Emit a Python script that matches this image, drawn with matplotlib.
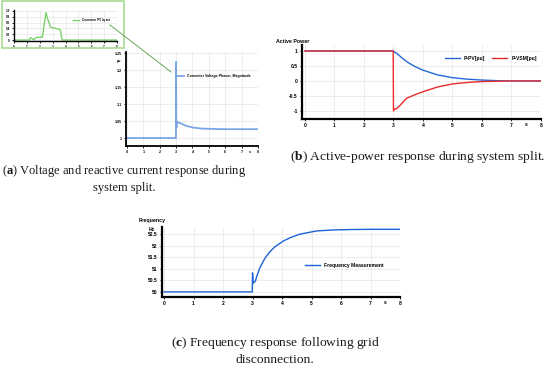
import matplotlib
matplotlib.use('Agg')
import matplotlib.pyplot as plt
from matplotlib.patches import Rectangle
from matplotlib.lines import Line2D

plt.rcParams['font.family'] = ['Liberation Sans', 'DejaVu Sans']
plt.rcParams['mathtext.fontset'] = 'custom'
plt.rcParams['mathtext.rm'] = 'Liberation Serif'
plt.rcParams['mathtext.bf'] = 'Liberation Serif:bold'

# (a) converter voltage magnitude [pu]
volt_t = [0, 2.99, 3.0, 3.01, 3.02, 3.04, 3.06, 3.3, 3.6, 4.0, 4.5, 5.0, 6.0, 8.0]
volt_v = [1.0, 1.0, 1.224, 1.05, 1.03, 1.049, 1.047, 1.043, 1.036, 1.031, 1.028, 1.027, 1.026, 1.026]
volt_ticks = [1.0, 1.05, 1.1, 1.15, 1.2, 1.25]
volt_labels = ['1', '1.05', '1.1', '1.15', '1.2', '1.25']

# (a) inset: reactive current
iq_t = [0, 1.15, 1.29, 1.45, 1.55, 1.7, 1.86, 2.2, 2.48, 2.6, 2.84, 3.2, 3.57, 3.62, 3.74, 8.0]
iq_v = [0, 0, 0.08, 0.03, 0.02, 0.08, 0.1, 0.1, 0.94, 0.75, 0.44, 0.4, 0.36, 0.3, 0.0, 0.0]
iq_ticks = [0, 0.2, 0.4, 0.6, 0.8, 1.0]

# (b) active power [pu]
ppv_t = [0, 2.99, 3.0, 3.05, 3.1, 3.3, 3.5, 3.75, 4.0, 4.5, 5.0, 5.5, 6.0, 6.5, 7.0, 8.0]
ppv_v = [1, 1, 1, 0.95, 0.93, 0.76, 0.61, 0.47, 0.36, 0.2, 0.11, 0.06, 0.03, 0.01, 0, 0]
pvsm_t = [0, 2.99, 3.0, 3.02, 3.1, 3.2, 3.44, 3.75, 4.0, 4.5, 5.0, 5.5, 6.0, 6.5, 7.0, 8.0]
pvsm_v = [1, 1, -1, -0.94, -0.93, -0.84, -0.58, -0.45, -0.36, -0.2, -0.1, -0.05, -0.02, -0.01, 0, 0]
p_ticks = [-1, -0.5, 0, 0.5, 1]

# (c) frequency [Hz]
freq_t = [0, 2.99, 3.0, 3.02, 3.05, 3.1, 3.14, 3.25, 3.42, 3.6, 3.76, 4.05, 4.3, 4.6, 5.17, 5.7, 6.3, 7.0, 8.0]
freq_v = [50, 50, 50.82, 50.38, 50.4, 50.48, 50.66, 51.05, 51.45, 51.75, 51.95, 52.2, 52.35, 52.49,
          52.63, 52.67, 52.69, 52.7, 52.7]
f_ticks = [50, 50.5, 51, 51.5, 52, 52.5]

x_ticks = [0, 1, 2, 3, 4, 5, 6, 7, 8]

W, H = 550, 373
fig = plt.figure(figsize=(W / 100, H / 100), dpi=100)


def box(left, top, right, bottom):
    return [left / W, 1 - bottom / H, (right - left) / W, (bottom - top) / H]


def style(ax, fs, lw=1.6):
    for s in ['top', 'right']:
        ax.spines[s].set_visible(False)
    for s in ['left', 'bottom']:
        ax.spines[s].set_linewidth(lw)
    ax.grid(True, color='#e6e6e6', linewidth=0.5)
    ax.set_axisbelow(True)
    ax.tick_params(labelsize=fs, length=1.5, width=0.6, pad=1.5)
    for lab in ax.get_xticklabels() + ax.get_yticklabels():
        lab.set_fontweight('bold')
    ax.set_xticks(x_ticks)
    ax.set_xticklabels([str(x) for x in x_ticks], fontsize=fs, fontweight='bold')


# ---- (a) main
ax_a = fig.add_axes(box(126, 52, 258, 146))
ax_a.plot(volt_t, volt_v, color='#7aa6e6', linewidth=1.3, label='Converter Voltage Phasor, Magnitude')
ax_a.set_xlim(-0.06, 8)
ax_a.set_ylim(0.9765, 1.253)
style(ax_a, 2.6, lw=1.3)
ax_a.set_yticks(volt_ticks)
ax_a.set_yticklabels(volt_labels, fontsize=2.6, fontweight='bold')
ax_a.text(7.5, -0.045, 's', transform=ax_a.get_xaxis_transform(), fontsize=2.6, fontweight='bold',
          ha='center', va='top')
ax_a.text(-0.04, 0.9, 'pu', transform=ax_a.transAxes, fontsize=2.6, fontweight='bold', ha='right', va='center')
ax_a.legend(loc='center', bbox_to_anchor=(0.667, 0.745), frameon=False, fontsize=2.6,
            handlelength=2, prop={'size': 2.6, 'weight': 'bold'})

# ---- (a) inset
ax_i = fig.add_axes(box(14, 10, 117, 41))
ax_i.plot(iq_t, iq_v, color='#7cd26a', linewidth=1.0, label='Converter PV Iq act')
ax_i.set_xlim(0, 8)
ax_i.set_ylim(-0.033, 1.03)
style(ax_i, 2.2, lw=1.0)
ax_i.set_yticks(iq_ticks)
ax_i.set_yticklabels([str(v) for v in iq_ticks], fontsize=2.2, fontweight='bold')
ax_i.legend(loc='center', bbox_to_anchor=(0.75, 0.68), frameon=False,
            handlelength=2, prop={'size': 2.2, 'weight': 'bold'})
fig.patches.append(Rectangle((2 / W, 1 - 48 / H), 122 / W, 47 / H, transform=fig.transFigure,
                             fill=False, edgecolor='#a9db92', linewidth=1.2))
fig.lines.append(Line2D([110 / W, 171 / W], [1 - 25 / H, 1 - 72 / H], transform=fig.transFigure,
                        color='#6aa85a', linewidth=0.7))

# ---- (b)
ax_b = fig.add_axes(box(302, 45, 541, 119))
ax_b.plot(ppv_t, ppv_v, color='#2468d8', linewidth=1.0, label='P-PV[pu]')
ax_b.plot(pvsm_t, pvsm_v, color='#ec2a2a', linewidth=1.0, label='P-VSM[pu]')
ax_b.set_xlim(-0.1, 8)
ax_b.set_ylim(-1.27, 1.2)
style(ax_b, 3.6)
ax_b.set_yticks(p_ticks)
ax_b.set_yticklabels(['-1', '-0.5', '0', '0.5', '1'], fontsize=3.6, fontweight='bold')
ax_b.text(7.5, -0.045, 's', transform=ax_b.get_xaxis_transform(), fontsize=3.6, fontweight='bold',
          ha='center', va='top')
ax_b.text(-0.11, 1.05, 'Active Power', transform=ax_b.transAxes, fontsize=3.8, fontweight='bold',
          ha='left', va='center')
ax_b.legend(loc='center', bbox_to_anchor=(0.79, 0.82), frameon=False, ncol=2, handlelength=3,
            columnspacing=1.5, prop={'size': 3.6, 'weight': 'bold'})

# ---- (c)
ax_c = fig.add_axes(box(162, 227, 400, 297))
ax_c.plot(freq_t, freq_v, color='#1d62d6', linewidth=1.0, label='Frequency Measurement')
ax_c.set_xlim(-0.07, 8)
ax_c.set_ylim(49.78, 52.8)
style(ax_c, 3.6)
ax_c.set_yticks(f_ticks)
ax_c.set_yticklabels(['50', '50.5', '51', '51.5', '52', '52.5'], fontsize=3.6, fontweight='bold')
ax_c.text(7.5, -0.045, 's', transform=ax_c.get_xaxis_transform(), fontsize=3.6, fontweight='bold',
          ha='center', va='top')
ax_c.text(-0.03, 0.97, 'Hz', transform=ax_c.transAxes, fontsize=3.6, fontweight='bold', ha='right', va='center')
ax_c.text(-0.1, 1.09, 'Frequency', transform=ax_c.transAxes, fontsize=3.8, fontweight='bold',
          ha='left', va='center')
ax_c.legend(loc='center', bbox_to_anchor=(0.765, 0.457), frameon=False, handlelength=3,
            prop={'size': 3.6, 'weight': 'bold'})

# ---- captions
cap = dict(family='Liberation Serif', color='#1a1a1a', ha='center', va='center')
fig.text(124 / W, 1 - 171 / H, r'($\mathbf{a}$) Voltage and reactive current response during', fontsize=9, **cap)
fig.text(124 / W, 1 - 188 / H, 'system split.', fontsize=9, **cap)
fig.text(418 / W, 1 - 157 / H, r'($\mathbf{b}$) Active-power response during system split.', fontsize=9.7, **cap)
fig.text(275 / W, 1 - 343 / H, r'($\mathbf{c}$) Frequency response following grid', fontsize=9.7, **cap)
fig.text(275 / W, 1 - 360 / H, 'disconnection.', fontsize=9.7, **cap)

fig.savefig('out.png', dpi=100)
